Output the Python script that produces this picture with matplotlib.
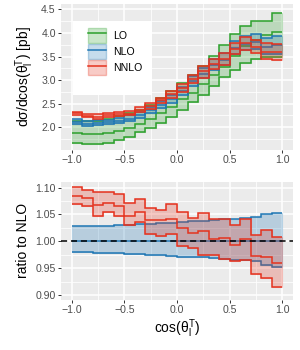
import matplotlib
matplotlib.use("Agg")
import matplotlib.pyplot as plt
import numpy as np
from matplotlib.lines import Line2D
from matplotlib.patches import Patch, Rectangle
from matplotlib.colors import to_rgba
from matplotlib.ticker import MultipleLocator

plt.rcParams['font.family'] = ['Liberation Sans', 'DejaVu Sans']
plt.rcParams['mathtext.fontset'] = 'custom'
plt.rcParams['mathtext.rm'] = 'Liberation Sans'
plt.rcParams['mathtext.it'] = 'Liberation Sans:italic'

# bins in cos(theta_l^T)
edges = [-1.0, -0.9, -0.8, -0.7, -0.6, -0.5, -0.4, -0.3, -0.2, -0.1, 0.0,
         0.1, 0.2, 0.3, 0.4, 0.5, 0.6, 0.7, 0.8, 0.9, 1.0]

# LO band (top panel, pb)
lo_hi = [2.12, 2.12, 2.14, 2.18, 2.23, 2.30, 2.37, 2.48, 2.62, 2.77,
         2.93, 3.10, 3.30, 3.52, 3.75, 3.97, 4.14, 4.26, 4.26, 4.42]
lo_mid = [1.88, 1.86, 1.86, 1.88, 1.92, 1.98, 2.07, 2.17, 2.29, 2.43,
          2.59, 2.72, 2.91, 3.10, 3.28, 3.52, 3.72, 3.86, 3.96, 4.03]
lo_lo = [1.67, 1.65, 1.65, 1.67, 1.72, 1.80, 1.89, 1.98, 2.09, 2.22,
         2.37, 2.54, 2.69, 2.87, 3.06, 3.22, 3.36, 3.44, 3.48, 3.48]

# NLO central value (top panel, pb)
nlo_mid = [2.11, 2.07, 2.08, 2.10, 2.13, 2.18, 2.25, 2.36, 2.48, 2.59,
           2.76, 2.97, 3.13, 3.32, 3.43, 3.68, 3.77, 3.80, 3.71, 3.74]

# ratios to NLO central (bottom panel)
nlo_r_hi = [1.028, 1.028, 1.029, 1.029, 1.030, 1.031, 1.032, 1.033, 1.034, 1.035,
            1.036, 1.037, 1.038, 1.039, 1.041, 1.042, 1.044, 1.045, 1.050, 1.053]
nlo_r_lo = [0.981, 0.980, 0.979, 0.979, 0.978, 0.977, 0.976, 0.975, 0.974, 0.972,
            0.971, 0.970, 0.970, 0.969, 0.968, 0.966, 0.965, 0.963, 0.956, 0.952]
nnlo_r_hi = [1.101, 1.096, 1.091, 1.092, 1.088, 1.071, 1.079, 1.062, 1.059, 1.069,
             1.055, 1.044, 1.053, 1.041, 1.041, 1.030, 1.041, 1.011, 1.022, 1.008]
nnlo_r_mid = [1.085, 1.080, 1.068, 1.071, 1.066, 1.048, 1.055, 1.040, 1.040, 1.042,
              1.024, 1.015, 1.020, 1.005, 1.006, 0.993, 1.004, 0.973, 0.970, 0.959]
nnlo_r_lo = [1.070, 1.065, 1.048, 1.055, 1.048, 1.031, 1.036, 1.014, 1.010, 1.014,
             0.992, 0.988, 0.974, 0.974, 0.968, 0.964, 0.966, 0.940, 0.931, 0.916]

labels = ['LO', 'NLO', 'NNLO']
colors = ['#2ca02c', '#1f77b4', '#e5321e']

edges = np.array(edges)
nlo_c = np.array(nlo_mid)
ratios = {
    'NLO': (np.array(nlo_r_lo), nlo_c / nlo_c, np.array(nlo_r_hi)),
    'NNLO': (np.array(nnlo_r_lo), np.array(nnlo_r_mid), np.array(nnlo_r_hi)),
}
top = {
    'LO': (np.array(lo_lo), np.array(lo_mid), np.array(lo_hi)),
    'NLO': tuple(nlo_c * r for r in ratios['NLO']),
    'NNLO': tuple(nlo_c * r for r in ratios['NNLO']),
}

BG = '#EBEBEB'
TXT = '#4D4D4D'


def style(ax):
    ax.set_facecolor(BG)
    for s in ax.spines.values():
        s.set_visible(False)
    ax.grid(which='major', color='white', lw=1.1)
    ax.grid(which='minor', color='white', lw=0.55)
    ax.set_axisbelow(True)
    ax.tick_params(which='major', length=2.2, width=0.7, color='#333333',
                   labelcolor=TXT, labelsize=7.6, pad=1.5)
    ax.tick_params(which='minor', length=0)
    ax.set_xlim(-1.105, 1.105)
    ax.xaxis.set_major_locator(MultipleLocator(0.5))
    ax.xaxis.set_minor_locator(MultipleLocator(0.25))


def band(ax, lo, mid, hi, c):
    ax.stairs(hi, edges, baseline=lo, fill=True, facecolor=to_rgba(c, 0.25),
              edgecolor=to_rgba(c, 0.2), lw=0.8)
    for v in (lo, mid, hi):
        ax.stairs(v, edges, baseline=None, color=c, lw=1.1)


fig = plt.figure(figsize=(3.0, 3.5), dpi=100)
ax1 = fig.add_axes([0.203, 0.571, 0.774, 0.418])
ax2 = fig.add_axes([0.203, 0.143, 0.774, 0.338])

style(ax1)
for name, c in zip(labels, colors):
    band(ax1, *top[name], c)
ax1.set_ylim(1.51, 4.62)
ax1.yaxis.set_major_locator(MultipleLocator(0.5))
ax1.yaxis.set_minor_locator(MultipleLocator(0.25))
ax1.set_ylabel('dσ/dcos(θ$_{\\mathrm{l}}^{\\mathrm{T}}$) [pb]', fontsize=10, labelpad=4)

# legend
ax1.add_patch(Rectangle((0.052, 0.377), 0.34, 0.507, transform=ax1.transAxes,
                        facecolor='white', edgecolor='none', zorder=4))
handles = [(Patch(facecolor=to_rgba(c, 0.25), edgecolor=to_rgba(c, 0.3), lw=1.0),
            Line2D([], [], color=c, lw=1.1)) for c in colors]
leg = ax1.legend(handles, labels, loc='upper left', bbox_to_anchor=(0.116, 0.835),
                 frameon=False, borderpad=0, borderaxespad=0, fontsize=7.6,
                 handlelength=1.75, handleheight=1.75, labelspacing=0.15,
                 handletextpad=0.65)
leg.set_zorder(5)
for t in leg.get_texts():
    t.set_color('black')

style(ax2)
for name, c in zip(labels[1:], colors[1:]):
    band(ax2, *ratios[name], c)
ax2.axhline(1.0, color='black', lw=1.1, ls=(0, (4, 2.5)), zorder=5)
ax2.set_ylim(0.891, 1.111)
ax2.yaxis.set_major_locator(MultipleLocator(0.05))
ax2.yaxis.set_minor_locator(MultipleLocator(0.025))
ax2.set_ylabel('ratio to NLO', fontsize=10, labelpad=4)
ax2.set_xlabel('cos(θ$_{\\mathrm{l}}^{\\mathrm{T}}$)', fontsize=10, labelpad=2)

fig.savefig('out.png', dpi=100)
